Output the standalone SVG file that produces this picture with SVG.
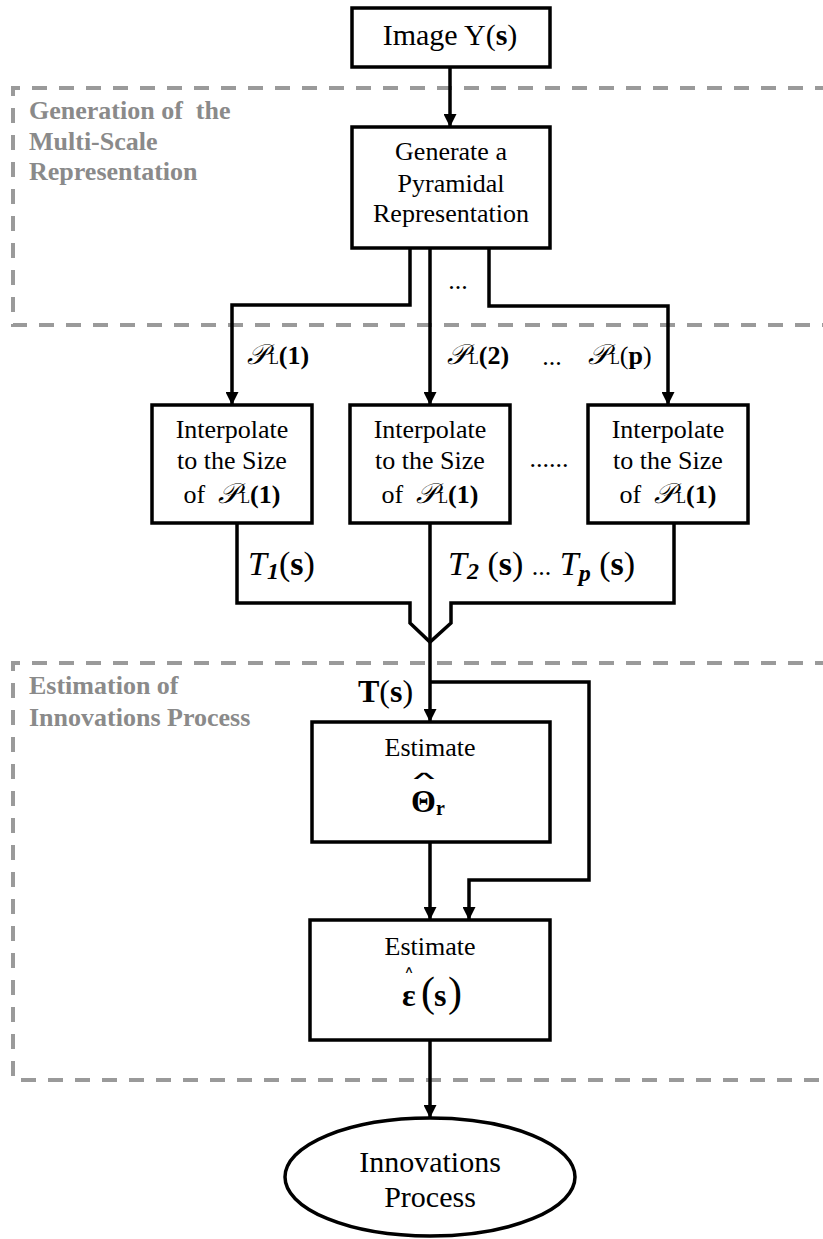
<svg xmlns="http://www.w3.org/2000/svg" width="823" height="1239" viewBox="0 0 823 1239">
  <style>
    text { font-family: "Liberation Serif", "Times New Roman", serif; fill: #000; }
    .lbl { font-size: 26px; text-anchor: middle; }
    .grp { font-size: 26px; font-weight: bold; fill: #8a8a8a; }
    .box { fill: #fff; stroke: #000; stroke-width: 3.5; }
    .wire { fill: none; stroke: #000; stroke-width: 3.5; stroke-linejoin: miter; }
    .region { fill: none; stroke: #9a9a9a; stroke-width: 4; stroke-dasharray: 15 12; }
    .b { font-weight: bold; }
    .i { font-style: italic; }
    .hat { font-family: "DejaVu Sans", sans-serif; }
  </style>
  <defs>
    <marker id="arrow" markerUnits="userSpaceOnUse" markerWidth="13" markerHeight="13" refX="13" refY="6.5" orient="auto">
      <path d="M0,0 L13,6.5 L0,13 z" fill="#000"/>
    </marker>
  </defs>

  <rect width="823" height="1239" fill="#fff"/>

  <!-- dashed stage regions -->
  <g id="stage-multiscale">
    <path class="region" d="M830,88 H13 V325 H830"/>
    <text class="grp" x="29" y="119">Generation of&#160; the</text>
    <text class="grp" x="29" y="150">Multi-Scale</text>
    <text class="grp" x="29" y="180">Representation</text>
  </g>
  <g id="stage-innovations">
    <path class="region" d="M830,663 H13 V1080 H830"/>
    <text class="grp" x="29" y="694">Estimation of</text>
    <text class="grp" x="29" y="726">Innovations Process</text>
  </g>

  <!-- connectors -->
  <g id="connectors">
    <path class="wire" d="M450,67 V127" marker-end="url(#arrow)"/>
    <path class="wire" d="M410,248 V305 H232 V405" marker-end="url(#arrow)"/>
    <path class="wire" d="M430,248 V405" marker-end="url(#arrow)"/>
    <path class="wire" d="M489,248 V306 H668 V405" marker-end="url(#arrow)"/>
    <path class="wire" d="M237,523 V603 H410 V623 L430,642 L451,623 V603 H674 V523"/>
    <path class="wire" d="M430,523 V722" marker-end="url(#arrow)"/>
    <path class="wire" d="M430,682 H589 V880 H469 V920" marker-end="url(#arrow)"/>
    <path class="wire" d="M430,842 V920" marker-end="url(#arrow)"/>
    <path class="wire" d="M430,1040 V1118" marker-end="url(#arrow)"/>
  </g>

  <!-- connector labels -->
  <g id="connector-labels">
    <text x="458" y="289" font-size="26" text-anchor="middle">...</text>
    <text x="247" y="364" font-size="26"><tspan font-size="28" class="i">𝒫</tspan><tspan font-size="16" dx="2">L</tspan><tspan class="b">(1)</tspan></text>
    <text x="447" y="364" font-size="26"><tspan font-size="28" class="i">𝒫</tspan><tspan font-size="16" dx="2">L</tspan><tspan class="b">(2)</tspan></text>
    <text x="552" y="365" font-size="26" text-anchor="middle">...</text>
    <text x="588" y="364" font-size="26"><tspan font-size="28" class="i">𝒫</tspan><tspan font-size="16" dx="2">L</tspan>(<tspan class="b">p</tspan>)</text>
    <text x="549" y="467" font-size="26" text-anchor="middle">......</text>
    <text x="248" y="575" font-size="34"><tspan class="i">T</tspan><tspan class="i b" font-size="24" dy="4">1</tspan><tspan dy="-4">(</tspan><tspan class="b">s</tspan>)</text>
    <text x="448" y="575" font-size="34"><tspan class="i">T</tspan><tspan class="i b" font-size="24" dy="4">2</tspan><tspan dy="-4"> (</tspan><tspan class="b">s</tspan>) <tspan font-size="26">...</tspan> <tspan class="i">T</tspan><tspan class="i b" font-size="24" dy="6">p</tspan><tspan dy="-6"> (</tspan><tspan class="b">s</tspan>)</text>
    <text x="358" y="702" font-size="32"><tspan class="b">T</tspan>(<tspan class="b">s</tspan>)</text>
  </g>

  <!-- nodes -->
  <g id="node-image">
    <rect class="box" x="352" y="8" width="198" height="59"/>
    <text x="450" y="45" font-size="30" text-anchor="middle">Image Y(<tspan class="b">s</tspan>)</text>
  </g>

  <g id="node-pyramid">
    <rect class="box" x="352" y="127" width="198" height="121"/>
    <text class="lbl" x="451" y="160">Generate a</text>
    <text class="lbl" x="451" y="192">Pyramidal</text>
    <text class="lbl" x="451" y="222">Representation</text>
  </g>

  <g id="node-interp-1">
    <rect class="box" x="152" y="405" width="160" height="118"/>
    <text class="lbl" x="232" y="438">Interpolate</text>
    <text class="lbl" x="232" y="469">to the Size</text>
    <text class="lbl" x="232" y="503">of&#160; <tspan font-size="28" class="i">𝒫</tspan><tspan font-size="16" dx="2">L</tspan><tspan class="b">(1)</tspan></text>
  </g>

  <g id="node-interp-2">
    <rect class="box" x="350" y="405" width="160" height="118"/>
    <text class="lbl" x="430" y="438">Interpolate</text>
    <text class="lbl" x="430" y="469">to the Size</text>
    <text class="lbl" x="430" y="503">of&#160; <tspan font-size="28" class="i">𝒫</tspan><tspan font-size="16" dx="2">L</tspan><tspan class="b">(1)</tspan></text>
  </g>

  <g id="node-interp-p">
    <rect class="box" x="588" y="405" width="160" height="118"/>
    <text class="lbl" x="668" y="438">Interpolate</text>
    <text class="lbl" x="668" y="469">to the Size</text>
    <text class="lbl" x="668" y="503">of&#160; <tspan font-size="28" class="i">𝒫</tspan><tspan font-size="16" dx="2">L</tspan><tspan class="b">(1)</tspan></text>
  </g>

  <g id="node-estimate-theta">
    <rect class="box" x="312" y="722" width="238" height="120"/>
    <text class="lbl" x="430" y="756">Estimate</text>
    <!-- wide hat accent over the estimate symbol -->
    <text class="hat" x="408" y="779" font-size="11" textLength="32" lengthAdjust="spacingAndGlyphs">∧</text>
    <text x="411" y="812" font-size="32"><tspan class="b">Θ</tspan><tspan font-size="20" class="b" dy="3">r</tspan></text>
  </g>

  <g id="node-estimate-eps">
    <rect class="box" x="310" y="920" width="240" height="120"/>
    <text class="lbl" x="430" y="955">Estimate</text>
    <text class="hat" x="404" y="973" font-size="10" textLength="10" lengthAdjust="spacingAndGlyphs">∧</text>
    <text x="402" y="1006" font-size="32" class="b">ε</text>
    <text x="421" y="1006" font-size="42">(</text>
    <text x="434" y="1006" font-size="32" class="b">s</text>
    <text x="448" y="1006" font-size="42">)</text>
  </g>

  <g id="node-output">
    <ellipse cx="430" cy="1177" rx="145" ry="59" fill="#fff" stroke="#000" stroke-width="3.5"/>
    <text x="430" y="1172" font-size="30" text-anchor="middle">Innovations</text>
    <text x="430" y="1207" font-size="30" text-anchor="middle">Process</text>
  </g>
</svg>
